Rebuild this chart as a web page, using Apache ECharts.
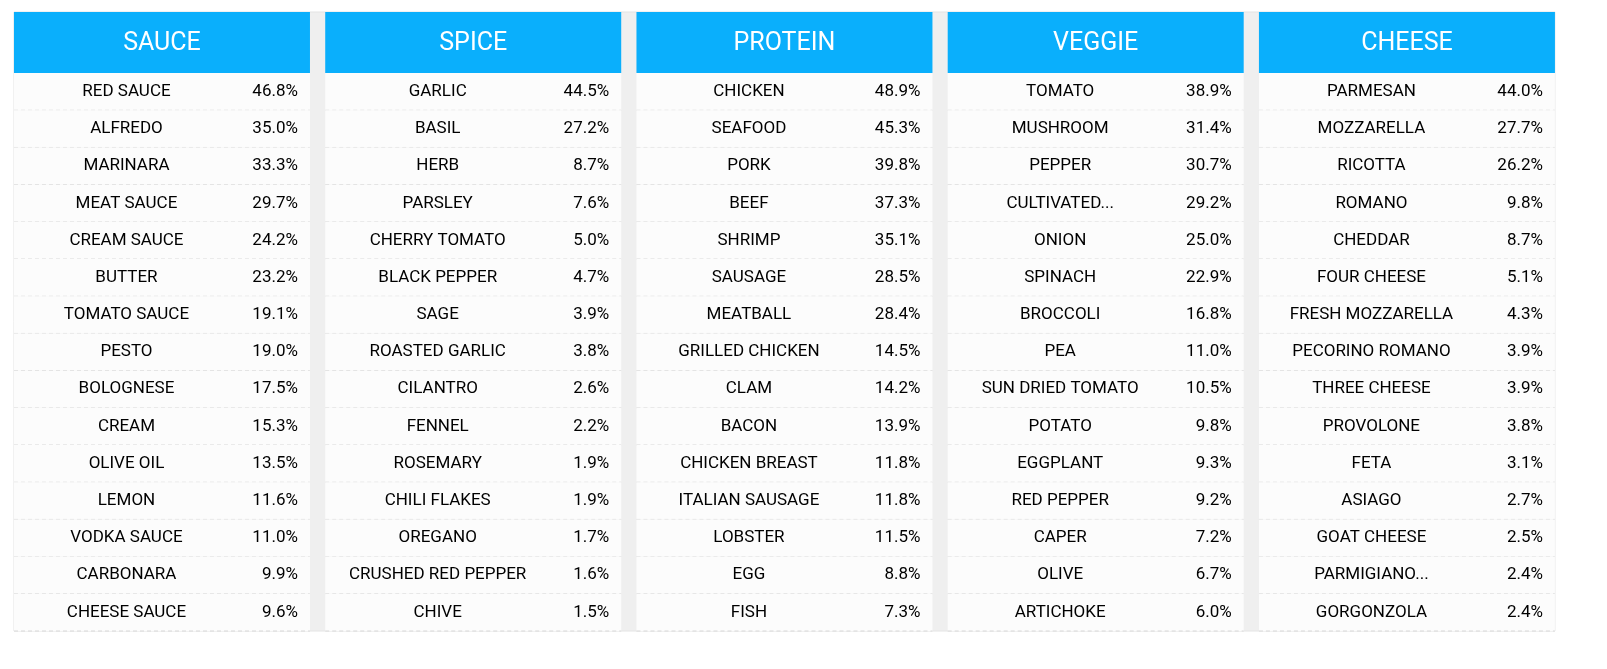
<!DOCTYPE html>
<html><head><meta charset="utf-8">
<script src="https://cdn.jsdelivr.net/npm/echarts@6/dist/echarts.min.js"></script>
<style>html,body{margin:0;background:#fff;overflow:hidden}#c{width:100vw;height:100vh}</style>
</head><body><div id="c"></div>
<script>
const groups = ['SAUCE', 'SPICE', 'PROTEIN', 'VEGGIE', 'CHEESE']
const sauceNames = ['RED SAUCE','ALFREDO','MARINARA','MEAT SAUCE','CREAM SAUCE','BUTTER','TOMATO SAUCE','PESTO','BOLOGNESE','CREAM','OLIVE OIL','LEMON','VODKA SAUCE','CARBONARA','CHEESE SAUCE']
const sauceValues = [46.8,35.0,33.3,29.7,24.2,23.2,19.1,19.0,17.5,15.3,13.5,11.6,11.0,9.9,9.6]
const spiceNames = ['GARLIC','BASIL','HERB','PARSLEY','CHERRY TOMATO','BLACK PEPPER','SAGE','ROASTED GARLIC','CILANTRO','FENNEL','ROSEMARY','CHILI FLAKES','OREGANO','CRUSHED RED PEPPER','CHIVE']
const spiceValues = [44.5,27.2,8.7,7.6,5.0,4.7,3.9,3.8,2.6,2.2,1.9,1.9,1.7,1.6,1.5]
const proteinNames = ['CHICKEN','SEAFOOD','PORK','BEEF','SHRIMP','SAUSAGE','MEATBALL','GRILLED CHICKEN','CLAM','BACON','CHICKEN BREAST','ITALIAN SAUSAGE','LOBSTER','EGG','FISH']
const proteinValues = [48.9,45.3,39.8,37.3,35.1,28.5,28.4,14.5,14.2,13.9,11.8,11.8,11.5,8.8,7.3]
const veggieNames = ['TOMATO','MUSHROOM','PEPPER','CULTIVATED...','ONION','SPINACH','BROCCOLI','PEA','SUN DRIED TOMATO','POTATO','EGGPLANT','RED PEPPER','CAPER','OLIVE','ARTICHOKE']
const veggieValues = [38.9,31.4,30.7,29.2,25.0,22.9,16.8,11.0,10.5,9.8,9.3,9.2,7.2,6.7,6.0]
const cheeseNames = ['PARMESAN','MOZZARELLA','RICOTTA','ROMANO','CHEDDAR','FOUR CHEESE','FRESH MOZZARELLA','PECORINO ROMANO','THREE CHEESE','PROVOLONE','FETA','ASIAGO','GOAT CHEESE','PARMIGIANO...','GORGONZOLA']
const cheeseValues = [44.0,27.7,26.2,9.8,8.7,5.1,4.3,3.9,3.9,3.8,3.1,2.7,2.5,2.4,2.4]

const allNames = [sauceNames, spiceNames, proteinNames, veggieNames, cheeseNames]
const allValues = [sauceValues, spiceValues, proteinValues, veggieValues, cheeseValues]

const PANEL = 0.951   // panel width in column units (gap is the rest)
const HEAD = 1.643    // header height in row units

const headerData = groups.map((g, i) => [i, 0, g])
const cellData = []
allNames.forEach((names, i) => {
  names.forEach((n, r) => cellData.push([i, HEAD + r, n, allValues[i][r]]))
})

const FONT = 'Roboto'

const chart = echarts.init(document.getElementById('c'))
chart.setOption({
  animation: false,
  grid: { left: '0.87%', right: '3.24%', top: '1.79%', bottom: '5.68%', show: true, backgroundColor: '#efefef', borderColor: '#e4e4e4', borderWidth: 1 },
  xAxis: { type: 'value', min: 0, max: 4 + PANEL, show: false },
  yAxis: { type: 'value', min: 0, max: HEAD + 15, inverse: true, show: false },
  series: [
    {
      type: 'custom',
      data: headerData,
      renderItem(params, api) {
        const p0 = api.coord([api.value(0), api.value(1)])
        const p1 = api.coord([api.value(0) + PANEL, HEAD])
        return {
          type: 'group',
          children: [
            { type: 'rect', shape: { x: p0[0], y: p0[1], width: p1[0] - p0[0], height: p1[1] - p0[1] }, style: { fill: '#0aaffc' } },
            { type: 'text', x: (p0[0] + p1[0]) / 2, y: (p0[1] + p1[1]) / 2 + 1,
              style: { text: headerData[params.dataIndex][2], fill: '#fff', font: '400 25px ' + FONT, align: 'center', verticalAlign: 'middle' } }
          ]
        }
      }
    },
    {
      type: 'custom',
      data: cellData,
      renderItem(params, api) {
        const d = cellData[params.dataIndex]
        const p0 = api.coord([d[0], d[1]])
        const p1 = api.coord([d[0] + PANEL, d[1] + 1])
        const w = p1[0] - p0[0]
        const cy = (p0[1] + p1[1]) / 2
        return {
          type: 'group',
          children: [
            { type: 'rect', shape: { x: p0[0], y: p0[1], width: w, height: p1[1] - p0[1] }, style: { fill: '#fcfcfc' } },
            { type: 'line', shape: { x1: p0[0], y1: p1[1], x2: p1[0], y2: p1[1] }, style: { stroke: '#d8d8d8', lineWidth: 1, lineDash: [4, 3] } },
            { type: 'text', x: p0[0] + w * 0.38, y: cy,
              style: { text: d[2], fill: '#000', font: '400 17px ' + FONT, align: 'center', verticalAlign: 'middle' } },
            { type: 'text', x: p1[0] - 12, y: cy,
              style: { text: d[3].toFixed(1) + '%', fill: '#000', font: '400 17px ' + FONT, align: 'right', verticalAlign: 'middle' } }
          ]
        }
      }
    }
  ]
})
window.addEventListener('resize', () => chart.resize())
</script>
</body></html>
